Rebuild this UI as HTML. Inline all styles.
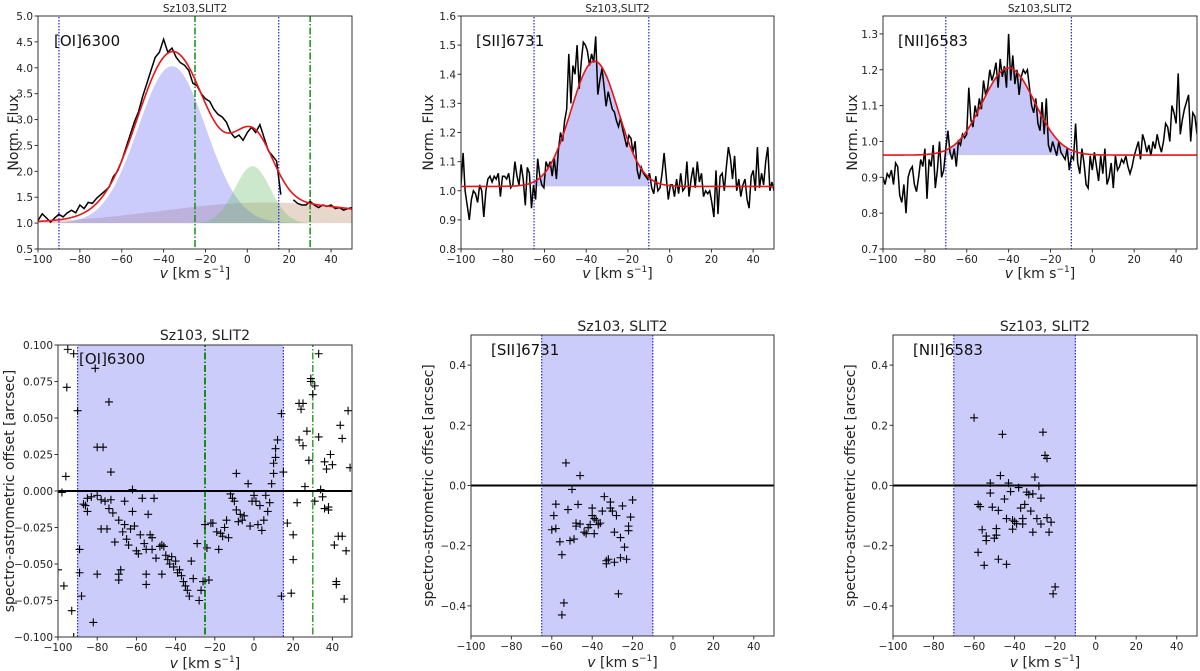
<!DOCTYPE html>
<html><head><meta charset="utf-8"><style>
html,body{margin:0;padding:0;background:#fff}
svg{display:block;font-family:"DejaVu Sans","Liberation Sans",sans-serif}
</style></head><body>
<svg id="fig" width="1200" height="671" viewBox="0 0 1200 671" xmlns="http://www.w3.org/2000/svg"></svg>
<script>
// ---- data ----
const oiFlux=[1.05,1.18,1.10,1.02,1.10,1.17,1.12,1.20,1.25,1.20,1.35,1.28,1.40,1.38,1.48,1.55,1.62,1.70,1.90,2.00,2.20,2.45,2.70,2.95,3.15,3.45,3.70,3.95,4.20,4.30,4.55,4.30,4.38,4.20,4.10,4.05,3.95,3.70,3.65,3.50,3.40,3.35,3.20,3.10,3.05,2.95,2.75,2.65,2.70,2.60,2.75,2.85,2.75,2.90,2.65,2.40,2.30,2.20,1.55,null,null,1.45,1.38,1.35,1.35,1.42,1.35,1.30,1.35,1.32,1.35,1.28,1.30,1.25,1.28,1.30];
const oiComp=[[4.03,-36,16.2],[2.1,2.5,8.5],[1.4,8,48]]; // peak, centre, sigma
const oiFit=[[4.05,-36,16.5],[2.25,3,9.5],[1.4,8,48]];
const oiCont=1.0;
const siiFlux=[1.02,1.13,1.00,0.95,0.90,0.97,1.00,0.99,0.96,1.02,1.00,0.91,1.00,1.04,1.05,1.03,1.05,1.04,1.06,0.98,1.05,1.05,1.04,1.06,1.01,1.02,1.10,1.05,1.02,1.09,1.04,0.95,1.08,1.06,0.94,1.02,0.97,1.11,1.05,1.02,1.01,1.10,1.08,1.10,1.05,1.11,1.04,1.14,1.20,1.17,1.24,1.28,1.47,1.30,1.43,1.40,1.50,1.35,1.44,1.51,1.50,1.48,1.43,1.47,1.44,1.53,1.33,1.38,1.42,1.36,1.29,1.34,1.31,1.28,1.27,1.24,1.22,1.25,1.21,1.18,1.15,1.19,1.18,1.13,1.17,1.07,1.04,1.08,1.06,1.05,1.04,1.06,1.01,0.99,1.05,1.00,1.01,1.06,1.13,1.05,0.97,1.02,1.02,0.98,1.04,0.99,1.06,1.00,1.01,1.10,0.98,1.04,1.08,1.01,1.10,1.03,1.06,0.98,1.00,0.99,1.00,0.96,0.91,1.07,0.92,1.05,1.06,1.00,1.08,1.15,1.11,1.04,1.12,1.00,1.04,0.98,1.02,1.04,0.97,0.94,1.05,1.07,1.00,1.15,1.01,1.06,1.02,1.10,1.15,1.00,1.03,1.00];
const siiComp=[[1.445,-36,11.3]];
const siiCont=1.015;
const niiFlux=[0.90,0.88,0.91,0.90,0.92,0.88,0.94,0.93,0.85,0.83,0.88,0.80,0.90,0.92,0.93,0.88,0.86,0.90,0.95,0.93,0.98,0.84,0.95,0.93,0.99,0.87,0.92,1.00,0.90,0.92,0.98,1.03,0.97,0.95,0.98,0.93,1.00,0.99,1.02,1.01,1.02,1.15,1.06,1.04,1.10,1.07,1.12,1.09,1.17,1.13,1.15,1.20,1.17,1.19,1.22,1.15,1.23,1.18,1.21,1.15,1.30,1.17,1.24,1.16,1.20,1.13,1.18,1.20,1.19,1.20,1.15,1.10,1.08,1.12,1.05,1.03,1.11,1.02,1.12,0.99,0.97,1.00,0.98,0.96,1.00,0.97,0.96,0.95,0.98,0.92,0.96,0.95,1.05,0.94,0.91,0.98,0.94,0.88,0.87,0.96,0.92,0.97,0.93,0.89,0.96,0.91,0.98,0.88,0.90,0.94,0.87,0.96,0.92,0.93,0.95,0.94,0.96,0.93,0.91,0.93,0.96,0.98,1.00,0.95,1.02,1.00,0.97,0.99,0.96,1.00,0.98,1.02,0.99,0.97,1.00,1.05,1.04,1.00,1.10,1.08,1.05,1.19,1.02,1.06,1.09,1.11,1.13,1.00,1.08,1.07,1.02];
const niiComp=[[1.205,-40,12.5]];
const niiCont=0.962;

const oiSaV=[-95,-92,-90,-95.5,-96,-98,-100,-97,-93,-92,-89,-88,-89,-81,-74,-80,-77,-73,-62,-87,-86,-85,-85,-83,-80,-78,-76,-73,-72,-66,-62,-57,-54,-51,-78,-75,-74,-71,-69,-67,-66,-65,-64,-63,-61,-60,-59,-58,-56,-55,-53,-52,-52,-50,-48,-47,-46,-45,-44,-43,-42,-41,-40,-39,-38,-37,-36,-35,-34,-33,-32,-31,-29,-28,-27,-26,-25,-24,-23,-22,-21,-19,-18,-17,-16,-15,-14,-13,-12,-11,-10,-9,-9,-8,-7,-6,-5,-3,-2,-1,0,1,2,3,4,5,6,7,8,9,10,10,11,11,12,14,15,14,-69,-68,-69,-80,-82,-55,-55,-47,17,20,20,19,22,23,24,25,23,25,26,27,28,29,29,30,31,33,31,33,34,35,36,37,38,38,39,40,41,42,42,43,44,45,45,46,47,48,49,36];
const oiSaY=[0.097,0.094,0.055,0.071,0.010,-0.001,-0.054,-0.065,-0.082,-0.1,-0.056,-0.072,-0.040,0.084,0.061,0.030,0.030,0.013,0.001,-0.009,-0.010,-0.014,-0.005,-0.004,-0.003,-0.006,-0.007,-0.006,-0.015,-0.007,-0.014,-0.005,-0.016,-0.005,-0.026,-0.026,-0.012,-0.035,-0.020,-0.028,-0.023,-0.033,-0.037,-0.026,-0.024,-0.041,-0.043,-0.030,-0.036,-0.040,-0.030,-0.032,-0.040,-0.046,-0.038,-0.037,-0.038,-0.044,-0.047,-0.050,-0.045,-0.052,-0.048,-0.056,-0.054,-0.058,-0.062,-0.065,-0.068,-0.072,-0.048,-0.060,-0.036,-0.075,-0.068,-0.062,-0.023,-0.039,-0.061,-0.022,-0.022,-0.028,-0.040,-0.029,-0.031,-0.025,-0.020,-0.032,-0.002,-0.005,-0.007,0.012,-0.013,-0.021,-0.016,-0.020,-0.017,0.005,-0.024,-0.007,-0.003,-0.007,-0.023,-0.010,-0.027,-0.020,-0.003,-0.014,-0.008,0.005,0.012,0.019,0.023,0.029,0.035,0.053,0.013,-0.072,-0.057,-0.054,-0.061,-0.057,-0.090,-0.057,-0.064,-0.057,-0.022,-0.030,-0.047,-0.070,-0.008,0.060,0.056,0.060,0.035,0.031,0.003,0.041,0.021,0.077,0.075,0.066,0.072,0.094,-0.007,0.037,0.001,-0.004,0.020,0.015,-0.011,-0.013,0.025,0.018,-0.037,-0.064,-0.062,-0.031,0.045,0.036,-0.031,-0.074,-0.041,0.055,0.016,-0.012];
const siiSaV=[-53,-46,-50,-58,-59,-60,-58,-56,-55,-52,-51,-49,-48,-48,-47,-46,-44,-43,-42,-41,-40,-40,-39,-39,-38,-37,-36,-35,-34,-33,-33,-32,-31,-31,-30,-29,-28,-27,-26,-26,-25,-24,-23,-22,-22,-21,-20,-29,-54,-55];
const siiSaY=[0.075,0.033,-0.013,-0.062,-0.1,-0.147,-0.143,-0.187,-0.23,-0.08,-0.183,-0.178,-0.125,-0.135,-0.063,-0.128,-0.155,-0.16,-0.14,-0.13,-0.075,-0.1,-0.11,-0.16,-0.115,-0.13,-0.125,-0.085,-0.037,-0.25,-0.26,-0.245,-0.075,-0.055,-0.085,-0.155,-0.1,-0.36,-0.24,-0.173,-0.068,-0.205,-0.245,-0.135,-0.15,-0.105,-0.048,-0.255,-0.39,-0.43];
const niiSaV=[-60,-46,-26,-25,-24,-47,-30,-52,-43,-38,-28,-52,-42,-34,-33,-31,-27,-58,-57,-51,-45,-48,-37,-35,-32,-44,-41,-40,-39,-36,-36,-29,-27,-24,-22,-56,-54,-54,-50,-49,-49,-41,-31,-23,-58,-55,-48,-44,-20,-21];
const niiSaY=[0.225,0.17,0.177,0.1,0.09,0.033,0.028,0.008,0.008,-0.007,-0.002,-0.025,-0.02,-0.022,-0.03,-0.028,-0.042,-0.063,-0.07,-0.072,-0.045,-0.083,-0.075,-0.063,-0.085,-0.11,-0.115,-0.12,-0.127,-0.11,-0.128,-0.11,-0.128,-0.107,-0.122,-0.147,-0.168,-0.183,-0.175,-0.143,-0.165,-0.145,-0.155,-0.155,-0.222,-0.265,-0.245,-0.262,-0.337,-0.36];
const xTicks=[-100,-80,-60,-40,-20,0,20,40];

// ---- drawing ----
const NS="http://www.w3.org/2000/svg";
const svg=document.getElementById('fig');
function el(tag,attrs,parent){const e=document.createElementNS(NS,tag);for(const k in attrs)e.setAttribute(k,attrs[k]);(parent||svg).appendChild(e);return e;}
function txt(s,attrs,parent){const t=el('text',attrs,parent);t.textContent=s;return t;}

function panel(o){
  const g=el('g',{});
  
  
  const X=v=>o.x0+(v-(-100))/150*(o.x1-o.x0);
  const Y=y=>o.y1-(y-o.ymin)/(o.ymax-o.ymin)*(o.y1-o.y0);
  const clipId='c'+o.name;
  const cp=el('clipPath',{id:clipId},g);el('rect',{x:o.x0,y:o.y0,width:o.x1-o.x0,height:o.y1-o.y0},cp);
  const p=el('g',{'clip-path':'url(#'+clipId+')'},g);
  o.draw(p,X,Y);
  const fr=el('rect',{x:o.x0,y:o.y0,width:o.x1-o.x0,height:o.y1-o.y0,fill:'none',stroke:'#333','stroke-width':1},g);
  
  xTicks.forEach(t=>{const x=X(t);el('line',{x1:x,x2:x,y1:o.y1,y2:o.y1+3.5,stroke:'#333'},g);
    const l=txt(String(t).replace('-','\u2212'),{x:x,y:o.y1+14,'font-size':10.5,'text-anchor':'middle',fill:'#222'},g);
    });
  o.yTicks.forEach(t=>{const y=Y(t);el('line',{x1:o.x0-3.5,x2:o.x0,y1:y,y2:y,stroke:'#333'},g);
    const l=txt(t.toFixed(o.yDec).replace('-','\u2212'),{x:o.x0-5,y:y+4,'font-size':10.5,'text-anchor':'end',fill:'#222'},g);
    });
  const xl=txt('',{x:(o.x0+o.x1)/2,y:o.y1+o.xlo,'font-size':14,'text-anchor':'middle',fill:'#222'},g);
  
  xl.innerHTML='<tspan font-style="italic">v</tspan> [km s<tspan dy="-6" font-size="9">\u22121</tspan><tspan dy="6">]</tspan>';
  const yl=txt(o.ylabel,{x:0,y:0,'font-size':14,'text-anchor':'middle',fill:'#222',transform:`translate(${o.ylx},${(o.y0+o.y1)/2}) rotate(-90)`},g);
  
  const ti=txt(o.title,{x:(o.x0+o.x1)/2,y:o.ty,'font-size':o.tfs,'text-anchor':'middle',fill:'#222'},g);
  
  const lb=txt(o.label,{x:o.lx,y:o.ly,'font-size':15,fill:'#111'},g);
  
}
function vline(p,X,Y,v,col,dash,w,name){const l=el('line',{x1:X(v),x2:X(v),y1:-10,y2:700,stroke:col,'stroke-width':w,'stroke-dasharray':dash},p);
  }
function spectrum(p,X,Y,flux){let d='',pen=false;const step=150/(flux.length-1);
  flux.forEach((f,i)=>{if(f===null){pen=false;return;}d+=(pen?'L':'M')+X(-100+i*step).toFixed(1)+' '+Y(f).toFixed(1);pen=true;});
  const s=el('path',{d:d,fill:'none',stroke:'#000','stroke-width':1.5},p);
  }
function areaComp(p,X,Y,c,cont,lo,hi,fill,name){let d='M'+X(lo)+' '+Y(cont);
  for(let v=lo;v<=hi+1e-9;v+=0.5)d+='L'+X(v).toFixed(1)+' '+Y(cont+(c[0]-cont)*Math.exp(-((v-c[1])**2)/(2*c[2]*c[2]))).toFixed(1);
  d+='L'+X(hi)+' '+Y(cont)+'Z';const a=el('path',{d:d,fill:fill,stroke:'none'},p);
  }
function fitLine(p,X,Y,comps,cont){let d='';
  for(let v=-100;v<=50;v+=0.5){let f=cont;comps.forEach(c=>{f+=(c[0]-cont)*Math.exp(-((v-c[1])**2)/(2*c[2]*c[2]));});d+=(d?'L':'M')+X(v).toFixed(1)+' '+Y(f).toFixed(1);}
  const l=el('path',{d:d,fill:'none',stroke:'#e8141a','stroke-width':1.6},p);
  }
function crosses(p,X,Y,vs,ys){vs.forEach((v,i)=>{const x=X(v),y=Y(ys[i]);
  const c=el('path',{d:`M${x-4} ${y}H${x+4}M${x} ${y-4}V${y+4}`,stroke:'#000','stroke-width':1.1,fill:'none'},p);
  });}
function band(p,X,Y,lo,hi){const r=el('rect',{x:X(lo),y:-10,width:X(hi)-X(lo),height:700,fill:'#ccccfa'},p);
  }
function zero(p,X,Y){const l=el('line',{x1:0,x2:1200,y1:Y(0),y2:Y(0),stroke:'#000','stroke-width':2},p);
  }

const BLUE_DOT='1.5,1.5', GRN='7,2,1.5,2';
panel({name:'oi-spectrum-panel',x0:38,x1:352,y0:16,y1:249,ymin:0.5,ymax:5.0,yTicks:[0.5,1.0,1.5,2.0,2.5,3.0,3.5,4.0,4.5,5.0],yDec:1,
  ylabel:'Norm. Flux',ylx:18,title:'Sz103,SLIT2',ty:12,tfs:10.5,label:'[OI]6300',lx:54,ly:46,xlo:29,
  draw:(p,X,Y)=>{
    areaComp(p,X,Y,oiComp[2],oiCont,-100,50,'rgba(190,140,110,0.35)','broad-component');
    areaComp(p,X,Y,oiComp[0],oiCont,-100,50,'rgba(110,110,245,0.35)','lvc-component');
    areaComp(p,X,Y,oiComp[1],oiCont,-100,50,'rgba(110,190,110,0.35)','hvc-component');
    vline(p,X,Y,-90,'#2020ff',BLUE_DOT,1.2,'velocity-limit');vline(p,X,Y,15,'#2020ff',BLUE_DOT,1.2,'velocity-limit');
    vline(p,X,Y,-25,'#1a8c1a',GRN,1.5,'green-marker');vline(p,X,Y,30,'#1a8c1a',GRN,1.5,'green-marker');
    spectrum(p,X,Y,oiFlux);fitLine(p,X,Y,oiFit,oiCont);}});
panel({name:'sii-spectrum-panel',x0:461,x1:774,y0:16,y1:249,ymin:0.8,ymax:1.6,yTicks:[0.8,0.9,1.0,1.1,1.2,1.3,1.4,1.5,1.6],yDec:1,
  ylabel:'Norm. Flux',ylx:433,title:'Sz103,SLIT2',ty:12,tfs:10.5,label:'[SII]6731',lx:476,ly:46,xlo:29,
  draw:(p,X,Y)=>{areaComp(p,X,Y,siiComp[0],siiCont,-65,-10,'#c8c8f8','line-fill');
    vline(p,X,Y,-65,'#2020ff',BLUE_DOT,1.2,'velocity-limit');vline(p,X,Y,-10,'#2020ff',BLUE_DOT,1.2,'velocity-limit');
    spectrum(p,X,Y,siiFlux);fitLine(p,X,Y,siiComp,siiCont);}});
panel({name:'nii-spectrum-panel',x0:883,x1:1197,y0:16,y1:249,ymin:0.7,ymax:1.35,yTicks:[0.7,0.8,0.9,1.0,1.1,1.2,1.3],yDec:1,
  ylabel:'Norm. Flux',ylx:857,title:'Sz103,SLIT2',ty:12,tfs:10.5,label:'[NII]6583',lx:898,ly:46,xlo:29,
  draw:(p,X,Y)=>{areaComp(p,X,Y,niiComp[0],niiCont,-70,-10,'#c8c8f8','line-fill');
    vline(p,X,Y,-70,'#2020ff',BLUE_DOT,1.2,'velocity-limit');vline(p,X,Y,-10,'#2020ff',BLUE_DOT,1.2,'velocity-limit');
    spectrum(p,X,Y,niiFlux);fitLine(p,X,Y,niiComp,niiCont);}});
panel({name:'oi-offset-panel',x0:58,x1:352,y0:345,y1:637,ymin:-0.1,ymax:0.1,yTicks:[-0.1,-0.075,-0.05,-0.025,0,0.025,0.05,0.075,0.1],yDec:3,
  ylabel:'spectro-astrometric offset [arcsec]',ylx:14,title:'Sz103, SLIT2',ty:340,tfs:14,label:'[OI]6300',lx:79,ly:364,xlo:31,
  draw:(p,X,Y)=>{band(p,X,Y,-90,15);
    vline(p,X,Y,-90,'#2020ff',BLUE_DOT,1.2,'velocity-limit');vline(p,X,Y,15,'#2020ff',BLUE_DOT,1.2,'velocity-limit');
    vline(p,X,Y,-25,'#1a8c1a',GRN,2,'green-marker');vline(p,X,Y,30,'#1a8c1a',GRN,1.3,'green-marker');
    zero(p,X,Y);crosses(p,X,Y,oiSaV,oiSaY);}});
panel({name:'sii-offset-panel',x0:471,x1:774,y0:335,y1:636,ymin:-0.5,ymax:0.5,yTicks:[-0.4,-0.2,0,0.2,0.4],yDec:1,
  ylabel:'spectro-astrometric offset [arcsec]',ylx:433,title:'Sz103, SLIT2',ty:331,tfs:14,label:'[SII]6731',lx:491,ly:355,xlo:31,
  draw:(p,X,Y)=>{band(p,X,Y,-65,-10);
    vline(p,X,Y,-65,'#2020ff',BLUE_DOT,1.2,'velocity-limit');vline(p,X,Y,-10,'#2020ff',BLUE_DOT,1.2,'velocity-limit');
    zero(p,X,Y);crosses(p,X,Y,siiSaV,siiSaY);}});
panel({name:'nii-offset-panel',x0:893,x1:1197,y0:335,y1:636,ymin:-0.5,ymax:0.5,yTicks:[-0.4,-0.2,0,0.2,0.4],yDec:1,
  ylabel:'spectro-astrometric offset [arcsec]',ylx:855,title:'Sz103, SLIT2',ty:331,tfs:14,label:'[NII]6583',lx:913,ly:355,xlo:31,
  draw:(p,X,Y)=>{band(p,X,Y,-70,-10);
    vline(p,X,Y,-70,'#2020ff',BLUE_DOT,1.2,'velocity-limit');vline(p,X,Y,-10,'#2020ff',BLUE_DOT,1.2,'velocity-limit');
    zero(p,X,Y);crosses(p,X,Y,niiSaV,niiSaY);}});
</script>
</body></html>
